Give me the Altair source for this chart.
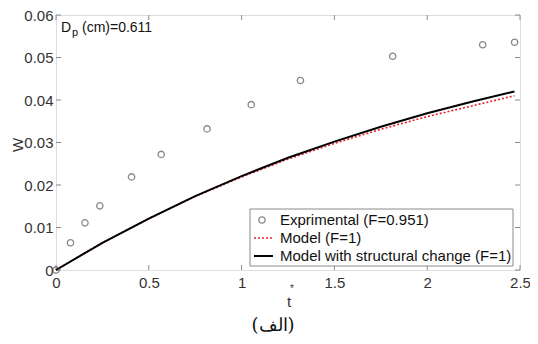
import altair as alt
import pandas as pd

# Experimental points
t_exp = [0.0, 0.078, 0.156, 0.236, 0.407, 0.567, 0.814, 1.052, 1.317, 1.814, 2.299, 2.471]
w_exp = [0.0, 0.0064, 0.0111, 0.0151, 0.0219, 0.0272, 0.0332, 0.0389, 0.0446, 0.0503, 0.0530, 0.0536]

# Model curves
t_mod = [0.0, 0.25, 0.5, 0.75, 1.0, 1.25, 1.5, 1.75, 2.0, 2.25, 2.47]
w_struct = [0.0, 0.0064, 0.0121, 0.0174, 0.0221, 0.0264, 0.0302, 0.0337, 0.0369, 0.0397, 0.0420]
w_model = [0.0, 0.0064, 0.0121, 0.0173, 0.0219, 0.0261, 0.0298, 0.0331, 0.0361, 0.0387, 0.0410]

x_ticks = [0, 0.5, 1, 1.5, 2, 2.5]
y_ticks = [0, 0.01, 0.02, 0.03, 0.04, 0.05, 0.06]

legend_labels = ["Exprimental (F=0.951)", "Model (F=1)", "Model with structural change (F=1)"]

W, H = 464, 255
FONT = "Liberation Sans"
GRAY = "#8a8a8a"
TXT = "#333333"

df_exp = pd.DataFrame({"t": t_exp, "w": w_exp})
df_s = pd.DataFrame({"t": t_mod, "w": w_struct})
df_m = pd.DataFrame({"t": t_mod, "w": w_model})
df_xt = pd.DataFrame({"t": x_ticks})
df_yt = pd.DataFrame({"w": y_ticks})
one = df_xt.head(1)

xs = alt.Scale(domain=[0, 2.5], nice=False, zero=False)
ys = alt.Scale(domain=[0, 0.06], nice=False, zero=False)

xaxis = alt.Axis(values=x_ticks, format="~g", grid=False, tickSize=0, domain=False,
                 labelFlush=False, labelOverlap=False,
                 labelFont=FONT, labelFontSize=15, labelColor=TXT, labelPadding=5,
                 title=None)
yaxis = alt.Axis(values=y_ticks, format="~g", grid=False, tickSize=0, domain=False,
                 labelFlush=False, labelOverlap=False,
                 labelFont=FONT, labelFontSize=15, labelColor=TXT, labelPadding=3,
                 title=None)

base_axes = alt.Chart(df_exp).mark_point(opacity=0).encode(
    x=alt.X("t:Q", scale=xs, axis=xaxis),
    y=alt.Y("w:Q", scale=ys, axis=yaxis),
)

pts = alt.Chart(df_exp).mark_point(shape="circle", size=40, filled=False,
                                   color="#555555", strokeWidth=1.3).encode(
    x=alt.X("t:Q", scale=xs), y=alt.Y("w:Q", scale=ys))

red = alt.Chart(df_m).mark_line(color="#e8202a", strokeDash=[2, 2], strokeWidth=1.6).encode(
    x=alt.X("t:Q", scale=xs), y=alt.Y("w:Q", scale=ys))

blk = alt.Chart(df_s).mark_line(color="#000000", strokeWidth=2).encode(
    x=alt.X("t:Q", scale=xs), y=alt.Y("w:Q", scale=ys))

# inward ticks (bottom, top, left, right)
tb = alt.Chart(df_xt).mark_rule(color=GRAY, strokeWidth=1).encode(
    x=alt.X("t:Q", scale=xs), y=alt.value(H), y2=alt.value(H - 5))
tt = alt.Chart(df_xt).mark_rule(color=GRAY, strokeWidth=1).encode(
    x=alt.X("t:Q", scale=xs), y=alt.value(0), y2=alt.value(5))
tl = alt.Chart(df_yt).mark_rule(color=GRAY, strokeWidth=1).encode(
    y=alt.Y("w:Q", scale=ys), x=alt.value(0), x2=alt.value(5))
tr = alt.Chart(df_yt).mark_rule(color=GRAY, strokeWidth=1).encode(
    y=alt.Y("w:Q", scale=ys), x=alt.value(W), x2=alt.value(W - 5))

# axis titles
ytitle = alt.Chart(one).mark_text(text="W", font=FONT, fontSize=15, color=TXT, angle=270).encode(
    x=alt.value(-38), y=alt.value(130))
xtitle = alt.Chart(one).mark_text(text="t", font=FONT, fontSize=15, color=TXT).encode(
    x=alt.value(233), y=alt.value(287))
star = alt.Chart(one).mark_text(text="*", font=FONT, fontSize=10, color=TXT).encode(
    x=alt.value(236), y=alt.value(274))

# D_p annotation
d1 = alt.Chart(one).mark_text(text="D", font=FONT, fontSize=14, color="#111111",
                              align="left", baseline="alphabetic").encode(
    x=alt.value(5), y=alt.value(17))
d2 = alt.Chart(one).mark_text(text="p", font=FONT, fontSize=11, color="#111111",
                              align="left", baseline="alphabetic").encode(
    x=alt.value(16), y=alt.value(21))
d3 = alt.Chart(one).mark_text(text="(cm)=0.611", font=FONT, fontSize=14, color="#111111",
                              align="left", baseline="alphabetic").encode(
    x=alt.value(26), y=alt.value(17))

# legend
lbox = alt.Chart(one).mark_rect(fill="white", stroke=GRAY, strokeWidth=1).encode(
    x=alt.value(194), x2=alt.value(457), y=alt.value(194), y2=alt.value(251))
leg_df = pd.DataFrame({"label": legend_labels, "yy": [205, 223, 241]})
ltext = alt.Chart(leg_df).mark_text(font=FONT, fontSize=15, color="#111111", align="left",
                                    baseline="middle").encode(
    x=alt.value(224), y=alt.Y("yy:Q", scale=None), text="label:N")
lpt = alt.Chart(leg_df.iloc[[0]]).mark_point(shape="circle", size=40, filled=False,
                                             color="#555555", strokeWidth=1.3).encode(
    x=alt.value(206), y=alt.Y("yy:Q", scale=None))
lred = alt.Chart(leg_df.iloc[[1]]).mark_rule(color="#e8202a", strokeDash=[2, 2], strokeWidth=1.6).encode(
    x=alt.value(198), x2=alt.value(217), y=alt.Y("yy:Q", scale=None))
lblk = alt.Chart(leg_df.iloc[[2]]).mark_rule(color="#000000", strokeWidth=2).encode(
    x=alt.value(198), x2=alt.value(217), y=alt.Y("yy:Q", scale=None))

caption = alt.Chart(one).mark_text(text="(الف)", font="DejaVu Serif", fontSize=18,
                                   color="#111111").encode(
    x=alt.value(217), y=alt.value(311))

chart = alt.layer(base_axes, tb, tt, tl, tr, red, blk, pts, ytitle, xtitle, star, d1, d2, d3,
                  lbox, ltext, lpt, lred, lblk, caption).properties(
    width=W, height=H,
    autosize=alt.AutoSizeParams(type="none"),
    padding={"left": 48, "top": 7, "right": 10, "bottom": 65},
).configure_view(stroke=GRAY, strokeWidth=1).configure(background="white")

chart.save("out.html", embed_options={"renderer": "svg", "actions": False})
